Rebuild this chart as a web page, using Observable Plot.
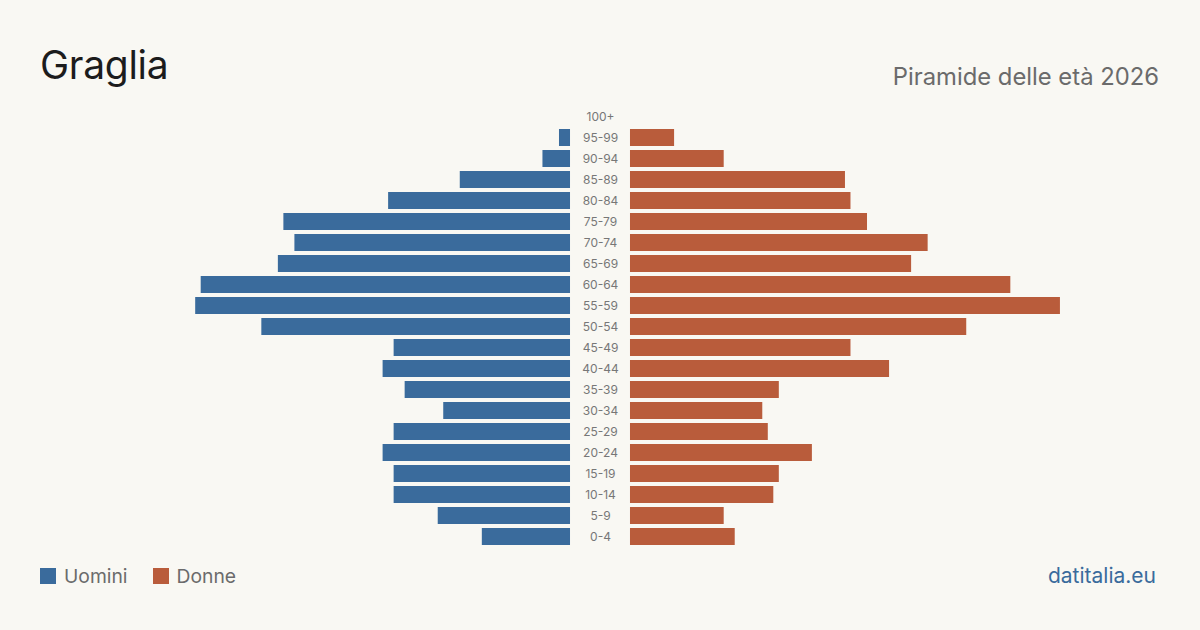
<!DOCTYPE html>
<html>
<head>
<meta charset="utf-8">
<script src="https://cdn.jsdelivr.net/npm/d3@7"></script>
<script src="https://cdn.jsdelivr.net/npm/@observablehq/plot@0.6"></script>
<style>
  html, body { margin: 0; padding: 0; background: #f9f8f3; }
  #page { position: relative; width: 1200px; height: 630px; background: #f9f8f3; font-family: Inter, "Noto Sans", sans-serif; overflow: hidden; }
  #title { position: absolute; left: 40px; top: 45px; font-size: 39px; color: #1c1c1c; line-height: 1; letter-spacing: -0.3px; }
  #subtitle { position: absolute; right: 41px; top: 65px; font-size: 23.8px; color: #6b6b6b; line-height: 1; }
  #chart { position: absolute; left: 0; top: 95px; }
  #legend { position: absolute; left: 40px; top: 565px; display: flex; align-items: center; font-size: 19.3px; color: #6b6b6b; line-height: 22px; }
  .sw { width: 16px; height: 16px; display: inline-block; margin-right: 8px; }
  .item { display: flex; align-items: center; margin-right: 25px; }
  #source { position: absolute; right: 44px; top: 565px; font-size: 21px; color: #3a6b9c; line-height: 22px; }
</style>
</head>
<body>
<div id="page">
  <div id="title">Graglia</div>
  <div id="subtitle">Piramide delle età 2026</div>
  <div id="chart"></div>
  <div id="legend"></div>
  <div id="source">datitalia.eu</div>
</div>
<script>
const ages = ["100+","95-99","90-94","85-89","80-84","75-79","70-74","65-69","60-64","55-59","50-54","45-49","40-44","35-39","30-34","25-29","20-24","15-19","10-14","5-9","0-4"];
const uomini = [0,2,5,20,33,52,50,53,67,68,56,32,34,30,23,32,34,32,32,24,16];
const donne  = [0,8,17,39,40,43,54,51,69,78,61,40,47,27,24,25,33,27,26,17,19];
const seriesNames = ["Uomini","Donne"];
const seriesColors = ["#3a6b9c","#b95c3b"];

const rows = ages.map((a, i) => ({age: a, m: uomini[i], f: donne[i]}));
const D = 108.85;   // half-width of x domain (in persons)
const gap = 5.44;   // half gap for the central labels (in persons)

const chart = Plot.plot({
  width: 1200,
  height: 460,
  marginLeft: 0, marginRight: 0, marginTop: 10.5, marginBottom: 8.5,
  style: {background: "transparent", fontFamily: "Inter, 'Noto Sans', sans-serif"},
  x: {domain: [-D, D], axis: null},
  y: {type: "band", domain: ages, paddingInner: 0.2, paddingOuter: 0.1, axis: null},
  marks: [
    Plot.barX(rows.filter(d => d.m > 0), {x1: d => -gap, x2: d => -gap - d.m, y: "age", fill: seriesColors[0]}),
    Plot.barX(rows.filter(d => d.f > 0), {x1: d => gap, x2: d => gap + d.f, y: "age", fill: seriesColors[1]}),
    Plot.text(rows, {x: () => 0, y: "age", text: "age", fontSize: 12, fill: "#777"})
  ]
});
document.getElementById("chart").appendChild(chart);

const legend = document.getElementById("legend");
seriesNames.forEach((n, i) => {
  const it = document.createElement("span");
  it.className = "item";
  it.innerHTML = `<span class="sw" style="background:${seriesColors[i]}"></span>${n}`;
  legend.appendChild(it);
});
</script>
</body>
</html>
